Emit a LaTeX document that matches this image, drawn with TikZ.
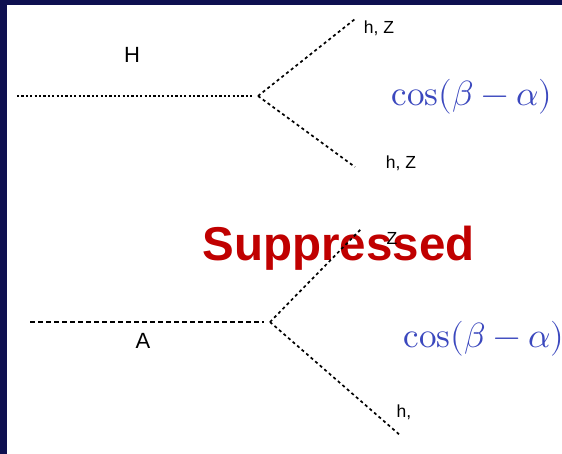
\documentclass[tikz,border=0pt]{standalone}
\usepackage{fontspec}
\setmainfont{Liberation Sans}
\usepackage{unicode-math}
\setmathfont{Latin Modern Math}
\definecolor{navy}{RGB}{14,16,80}
\definecolor{cosblue}{RGB}{59,72,190}
\definecolor{supred}{RGB}{192,0,0}
\newcommand{\coslm}{\mathop{\symup{cos}}\nolimits}
\tikzset{
  dotline/.style={line width=1.9pt, dash pattern=on 2.2pt off 2.2pt},
  dashline/.style={line width=1.7pt, dash pattern=on 3pt off 3pt},
  longdash/.style={line width=1.5pt, dash pattern=on 5pt off 3pt},
  smalllab/.style={inner sep=0pt, font=\fontsize{17.5}{20}\selectfont},
  biglab/.style={inner sep=0pt, font=\fontsize{22}{26}\selectfont},
  coslab/.style={inner sep=0pt, text=cosblue, font=\fontsize{35}{42}\selectfont},
}
\begin{document}
\begin{tikzpicture}[x=1pt,y=-1pt]
\useasboundingbox (0,0) rectangle (562,454);
\fill[navy] (0,0) rectangle (562,454);
\fill[white] (7,5) rectangle (562,454);
% top diagram
\coordinate (Hs) at (17,96);
\coordinate (He) at (252,96);
\coordinate (Hv) at (258,96);
\coordinate (Hu) at (355,19);
\coordinate (Hd) at (355,167);
\node[biglab] (Hlab) at (132,55) {H};
\node[smalllab] (hz1) at (379,28) {h, Z};
\node[smalllab] (hz2) at (401,163) {h, Z};
\node[coslab] (cos1) at (472,97) {$\coslm(\beta-\alpha)$};
\draw[dotline] (Hs) -- (He);
\draw[dashline] (Hv) -- (Hu);
\draw[dashline] (Hv) -- (Hd);
% bottom diagram
\node[inner sep=0pt, text=supred, font=\fontsize{47.5}{56}\selectfont\bfseries] (sup) at (338.5,248) {Suppressed};
\coordinate (As) at (30,322);
\coordinate (Ae) at (264,322);
\coordinate (Av) at (270,322);
\coordinate (Au) at (362,228);
\coordinate (Ad) at (401,436);
\node[biglab] (Alab) at (143,341) {A};
\node[smalllab] (zlab) at (392,238) {Z};
\node[smalllab] (hlab) at (404,412) {h,};
\node[coslab] (cos2) at (484,339) {$\coslm(\beta-\alpha)$};
\draw[longdash] (As) -- (Ae);
\draw[dashline] (Av) -- (Au);
\draw[dashline] (Av) -- (Ad);
\end{tikzpicture}
\end{document}
